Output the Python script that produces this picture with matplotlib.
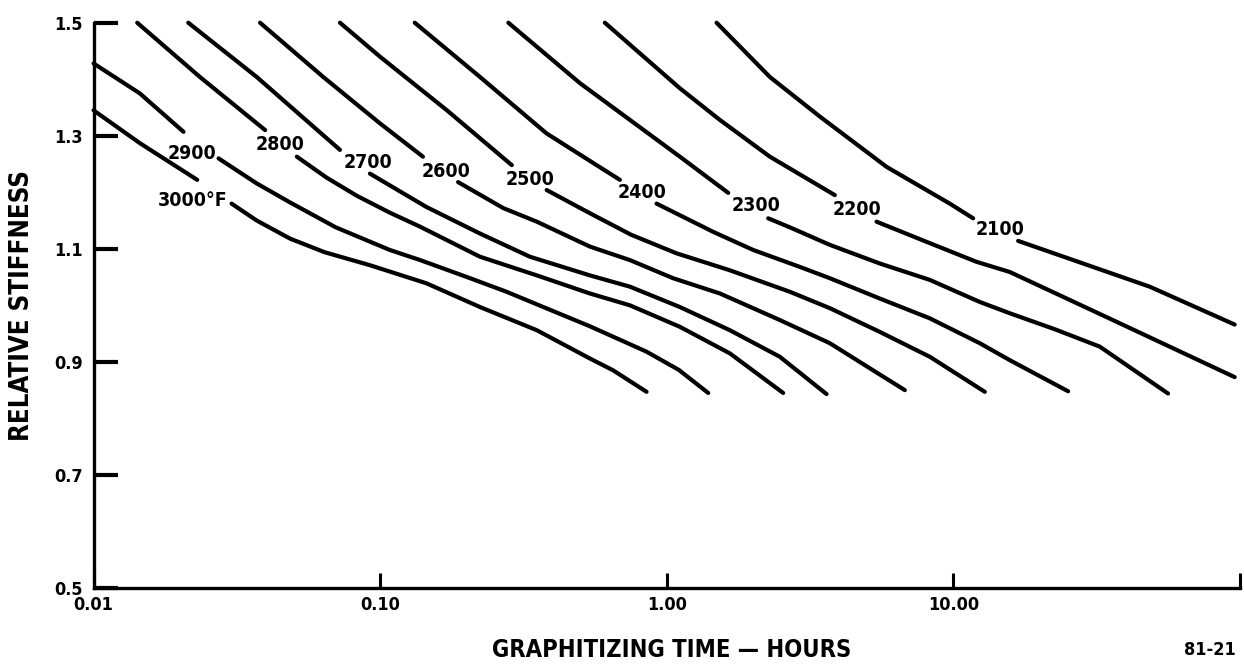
import os
import matplotlib
matplotlib.use("Agg")
import matplotlib.pyplot as plt
from matplotlib import font_manager as fm
from matplotlib.ticker import FixedLocator, NullLocator

# ---------------------------------------------------------------------------
# Relative stiffness vs. graphitizing time, one curve per temperature (deg F)
# ---------------------------------------------------------------------------
temperatures = [3000, 2900, 2800, 2700, 2600, 2500, 2400, 2300, 2200, 2100]

hours_3000 = [0.0100, 0.0145, 0.0230, 0.0303, 0.0371, 0.0485, 0.0640, 0.0921, 0.145, 0.223, 0.352,
              0.539, 0.650, 0.850]
stiff_3000 = [1.345, 1.287, 1.222, 1.180, 1.150, 1.118, 1.094, 1.071, 1.039, 0.997, 0.956,
              0.906, 0.885, 0.847]

hours_2900 = [0.0100, 0.0145, 0.0206, 0.0273, 0.0370, 0.0485, 0.0700, 0.108, 0.138, 0.206, 0.276,
              0.371, 0.539, 0.850, 1.100, 1.395]
stiff_2900 = [1.428, 1.375, 1.307, 1.260, 1.216, 1.182, 1.138, 1.098, 1.080, 1.048, 1.024,
              0.997, 0.963, 0.918, 0.886, 0.845]

hours_2800 = [0.0142, 0.0235, 0.0397, 0.0512, 0.0650, 0.0828, 0.108, 0.138, 0.223, 0.352, 0.539,
              0.744, 1.111, 1.660, 2.547]
stiff_2800 = [1.500, 1.404, 1.310, 1.263, 1.226, 1.194, 1.164, 1.139, 1.086, 1.053, 1.021,
              1.000, 0.962, 0.915, 0.845]

hours_2700 = [0.0214, 0.0371, 0.0724, 0.0921, 0.145, 0.223, 0.333, 0.539, 0.744, 1.111, 1.660,
              2.480, 3.609]
stiff_2700 = [1.500, 1.404, 1.275, 1.233, 1.174, 1.127, 1.086, 1.053, 1.033, 0.997, 0.956,
              0.909, 0.843]

hours_2600 = [0.0381, 0.0633, 0.0998, 0.141, 0.187, 0.269, 0.352, 0.539, 0.744, 1.052, 1.532,
              2.480, 3.706, 5.248, 6.768]
stiff_2600 = [1.500, 1.404, 1.322, 1.263, 1.218, 1.172, 1.148, 1.104, 1.080, 1.048, 1.021,
              0.974, 0.933, 0.885, 0.850]

hours_2500 = [0.0724, 0.0998, 0.171, 0.288, 0.381, 0.539, 0.750, 1.082, 1.660, 2.688, 3.706,
              5.538, 8.275, 12.87]
stiff_2500 = [1.500, 1.440, 1.345, 1.248, 1.204, 1.163, 1.125, 1.092, 1.062, 1.024, 0.995,
              0.953, 0.909, 0.847]

hours_2400 = [0.132, 0.223, 0.381, 0.686, 0.921, 1.452, 2.001, 2.912, 3.706, 5.538, 8.275,
              12.36, 15.73, 25.13]
stiff_2400 = [1.500, 1.404, 1.304, 1.222, 1.180, 1.130, 1.098, 1.068, 1.048, 1.012, 0.977,
              0.933, 0.903, 0.848]

hours_2300 = [0.280, 0.498, 1.111, 1.638, 2.258, 2.688, 3.706, 5.538, 8.275, 12.36, 15.73,
              22.50, 32.40, 56.09]
stiff_2300 = [1.500, 1.393, 1.263, 1.199, 1.154, 1.138, 1.107, 1.074, 1.045, 1.006, 0.986,
              0.958, 0.927, 0.844]

hours_2200 = [0.608, 1.111, 1.532, 2.289, 3.858, 5.393, 8.275, 12.04, 15.73, 37.06, 95.8]
stiff_2200 = [1.500, 1.384, 1.328, 1.263, 1.195, 1.148, 1.110, 1.077, 1.059, 0.971, 0.873]

hours_2100 = [1.492, 2.289, 3.420, 5.845, 9.71, 11.72, 16.82, 28.35, 48.42, 95.8]
stiff_2100 = [1.500, 1.404, 1.334, 1.245, 1.180, 1.154, 1.114, 1.074, 1.033, 0.966]

# each curve is broken where its temperature label sits:
# number of points drawn before the break
points_before_label = [3, 3, 3, 3, 4, 4, 4, 4, 5, 6]
curve_labels = ["3000\u00b0F", "2900", "2800", "2700", "2600", "2500", "2400", "2300", "2200", "2100"]

x_ticks = [0.01, 0.1, 1.0, 10.0, 100.0]
x_tick_labels = ["0.01", "0.10", "1.00", "10.00", ""]
y_ticks = [0.5, 0.7, 0.9, 1.1, 1.3, 1.5]
y_tick_labels = ["0.5", "0.7", "0.9", "1.1", "1.3", "1.5"]

curves = [
    (hours_3000, stiff_3000), (hours_2900, stiff_2900), (hours_2800, stiff_2800),
    (hours_2700, stiff_2700), (hours_2600, stiff_2600), (hours_2500, stiff_2500),
    (hours_2400, stiff_2400), (hours_2300, stiff_2300), (hours_2200, stiff_2200),
    (hours_2100, stiff_2100),
]


def condensed_bold_file():
    """Locate a narrow/condensed bold sans face among the installed fonts."""
    files = {}
    for entry in fm.fontManager.ttflist:
        files.setdefault(os.path.splitext(os.path.basename(entry.fname))[0], entry.fname)
    preferred = [
        "LiberationSansNarrow-Bold", "NotoSans-CondensedBold", "NotoSans-SemiCondensedBold",
        "DejaVuSansCondensed-Bold", "RobotoCondensed-Bold", "OpenSans-CondensedBold",
        "NotoSans-ExtraCondensedBold",
    ]
    for stem in preferred:
        if stem in files:
            return files[stem]
    for stem, path in sorted(files.items()):
        low = stem.lower()
        if ("narrow" in low or "condensed" in low) and "bold" in low \
                and "italic" not in low and "extra" not in low and "semibold" not in low:
            return path
    return None


NARROW = condensed_bold_file()


def font(size):
    if NARROW:
        return fm.FontProperties(fname=NARROW, size=size)
    return fm.FontProperties(family="Liberation Sans", weight="bold", size=size * 0.85)


fig = plt.figure(figsize=(12.44, 6.68), dpi=100)
ax = fig.add_axes([0.0752, 0.1198, 0.9216, 0.8462])

ax.set_xscale("log")
ax.set_xlim(0.01, 100)
ax.set_ylim(0.5, 1.5)

line_kw = dict(color="black", linewidth=3.0, solid_capstyle="round",
               solid_joinstyle="round", clip_on=False, zorder=3)
for (hrs, stf), n in zip(curves, points_before_label):
    ax.plot(hrs[:n], stf[:n], **line_kw)
    ax.plot(hrs[n:], stf[n:], **line_kw)

# temperature labels placed in the breaks of the curves (hours, stiffness)
label_anchor = [
    (0.0222, 1.186), (0.0221, 1.269), (0.0447, 1.284), (0.0907, 1.253),
    (0.170, 1.236), (0.333, 1.222), (0.819, 1.199), (2.05, 1.176),
    (4.60, 1.170), (14.5, 1.135),
]
for text, (tx, sy) in zip(curve_labels, label_anchor):
    ax.text(tx, sy, text, ha="center", va="center", fontproperties=font(14))

# axes frame
for side in ("top", "right"):
    ax.spines[side].set_visible(False)
for side in ("left", "bottom"):
    ax.spines[side].set_linewidth(2.4)
    ax.spines[side].set_color("black")

ax.xaxis.set_major_locator(FixedLocator(x_ticks))
ax.xaxis.set_minor_locator(NullLocator())
ax.set_xticklabels(x_tick_labels)
ax.set_yticks(y_ticks)
ax.set_yticklabels(y_tick_labels)

ax.tick_params(axis="y", direction="in", length=17, width=3.0, pad=8, colors="black")
ax.tick_params(axis="x", direction="in", length=11, width=2.2, pad=6, colors="black")
for lab in ax.get_xticklabels() + ax.get_yticklabels():
    lab.set_fontproperties(font(13))

fig.text(0.0177, 0.543, "RELATIVE STIFFNESS", rotation=90, ha="center", va="center",
         fontproperties=font(18.5))
fig.text(0.540, 0.027, "GRAPHITIZING TIME \u2014 HOURS", ha="center", va="center",
         fontproperties=font(17))
fig.text(0.9727, 0.027, "81-21", ha="center", va="center", fontproperties=font(13))

fig.savefig("out.png", dpi=100, facecolor="white")
